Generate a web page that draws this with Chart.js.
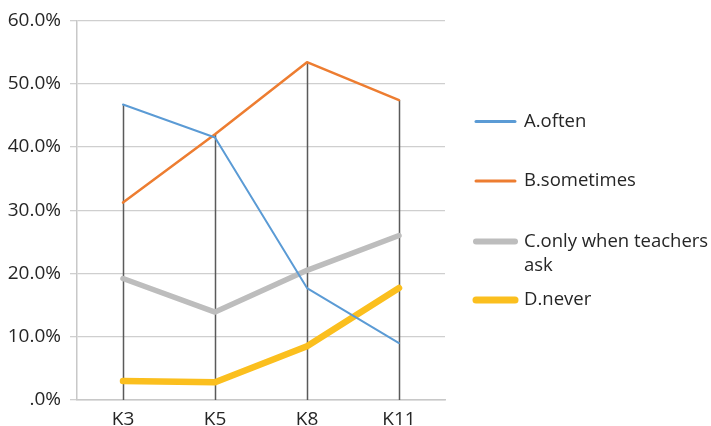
<!DOCTYPE html>
<html>
<head>
<meta charset="utf-8">
<script src="https://cdn.jsdelivr.net/npm/chart.js@4/dist/chart.umd.min.js"></script>
<style>
  html, body { margin: 0; padding: 0; background: #ffffff; }
  #wrap { width: 711px; height: 426px; }
</style>
</head>
<body>
<div id="wrap"><canvas id="chart" width="711" height="426"></canvas></div>
<script>
// Grades on the x axis
const grades = ['K3', 'K5', 'K8', 'K11'];

// Share of answers per grade, in percent
const often = [46.7, 41.5, 17.7, 9.0];
const sometimes = [31.2, 42.0, 53.4, 47.4];
const onlyWhenAsked = [19.2, 13.9, 20.5, 26.0];
const never = [3.0, 2.8, 8.5, 17.7];

// Series names
const seriesNames = ['A.often', 'B.sometimes', 'C.only when teachers ask', 'D.never'];

// Value axis range and tick step, in percent
const yMin = 0;
const yMax = 60;
const yStep = 10;

const FONT = "'Open Sans', 'DejaVu Sans', sans-serif";
const TEXT = '#262626';

// Vertical drop lines from the highest series value at each grade down to the axis
const dropLines = {
  id: 'dropLines',
  beforeDatasetsDraw(chart, args, opts) {
    const { ctx, scales: { x, y } } = chart;
    const n = chart.data.labels.length;
    ctx.save();
    ctx.strokeStyle = opts.color;
    ctx.lineWidth = opts.width;
    for (let i = 0; i < n; i++) {
      let top = -Infinity;
      chart.data.datasets.forEach(ds => { if (ds.data[i] > top) top = ds.data[i]; });
      const px = Math.round(x.getPixelForValue(i)) + 0.5;
      ctx.beginPath();
      ctx.moveTo(px, y.getPixelForValue(top));
      ctx.lineTo(px, y.getPixelForValue(yMin));
      ctx.stroke();
    }
    ctx.restore();
  }
};

// Legend at the right, with word wrapping for long names
const sideLegend = {
  id: 'sideLegend',
  afterDraw(chart, args, opts) {
    const { ctx } = chart;
    ctx.save();
    ctx.font = opts.font;
    ctx.fillStyle = opts.color;
    ctx.textBaseline = 'middle';
    ctx.textAlign = 'left';
    chart.data.datasets.forEach((ds, i) => {
      const rowY = opts.rows[i];
      ctx.beginPath();
      ctx.strokeStyle = ds.borderColor;
      ctx.lineWidth = ds.legendWidth;
      ctx.lineCap = 'round';
      ctx.moveTo(opts.lineX0, rowY);
      ctx.lineTo(opts.lineX1, rowY);
      ctx.stroke();
      // wrap words into lines no wider than maxWidth
      const words = ds.label.split(' ');
      const lines = [];
      let cur = '';
      words.forEach(w => {
        const test = cur ? cur + ' ' + w : w;
        if (cur && ctx.measureText(test).width > opts.maxWidth) { lines.push(cur); cur = w; }
        else cur = test;
      });
      if (cur) lines.push(cur);
      lines.forEach((ln, k) => ctx.fillText(ln, opts.textX, rowY + k * opts.lineHeight));
    });
    ctx.restore();
  }
};

const lineStyle = (color, width) => ({
  borderColor: color,
  backgroundColor: color,
  borderWidth: width,
  pointRadius: 0,
  pointHoverRadius: 0,
  tension: 0,
  fill: false,
  borderCapStyle: 'round',
  borderJoinStyle: 'round'
});

new Chart(document.getElementById('chart'), {
  type: 'line',
  data: {
    labels: grades,
    datasets: [
      { label: seriesNames[0], data: often, ...lineStyle('#5B9BD5', 2), legendWidth: 3 },
      { label: seriesNames[1], data: sometimes, ...lineStyle('#ED7D31', 2.5), legendWidth: 3 },
      { label: seriesNames[2], data: onlyWhenAsked, ...lineStyle('#BDBDBD', 5.5), legendWidth: 6 },
      { label: seriesNames[3], data: never, ...lineStyle('#FBBF1E', 6.5), legendWidth: 7 }
    ]
  },
  options: {
    responsive: false,
    animation: false,
    devicePixelRatio: 1,
    layout: { padding: { left: 0, right: 266, top: 19, bottom: 0 } },
    plugins: {
      legend: { display: false },
      tooltip: { enabled: false },
      dropLines: { color: '#5A5A5A', width: 1.5 },
      sideLegend: {
        font: '18.5px ' + FONT,
        color: TEXT,
        lineX0: 476,
        lineX1: 515,
        textX: 524,
        maxWidth: 190,
        lineHeight: 24,
        rows: [121.5, 181, 241.5, 300]
      }
    },
    scales: {
      x: {
        offset: true,
        grid: { display: false, drawTicks: false },
        border: { display: true, color: '#C8C8C8', width: 1.5 },
        ticks: { font: { family: FONT, size: 19 }, color: TEXT, padding: 8 },
        afterFit(scale) { scale.height = 26; }
      },
      y: {
        min: yMin,
        max: yMax,
        ticks: {
          stepSize: yStep,
          font: { family: FONT, size: 19 },
          color: TEXT,
          padding: 9,
          callback: v => (v === 0 ? '.0%' : v.toFixed(1) + '%')
        },
        grid: { color: '#CFCFCF', lineWidth: 1.3, tickLength: 7, drawTicks: true },
        border: { display: true, color: '#C8C8C8', width: 1.5 },
        afterFit(scale) { scale.width = 77; }
      }
    }
  },
  plugins: [dropLines, sideLegend]
});
</script>
</body>
</html>
